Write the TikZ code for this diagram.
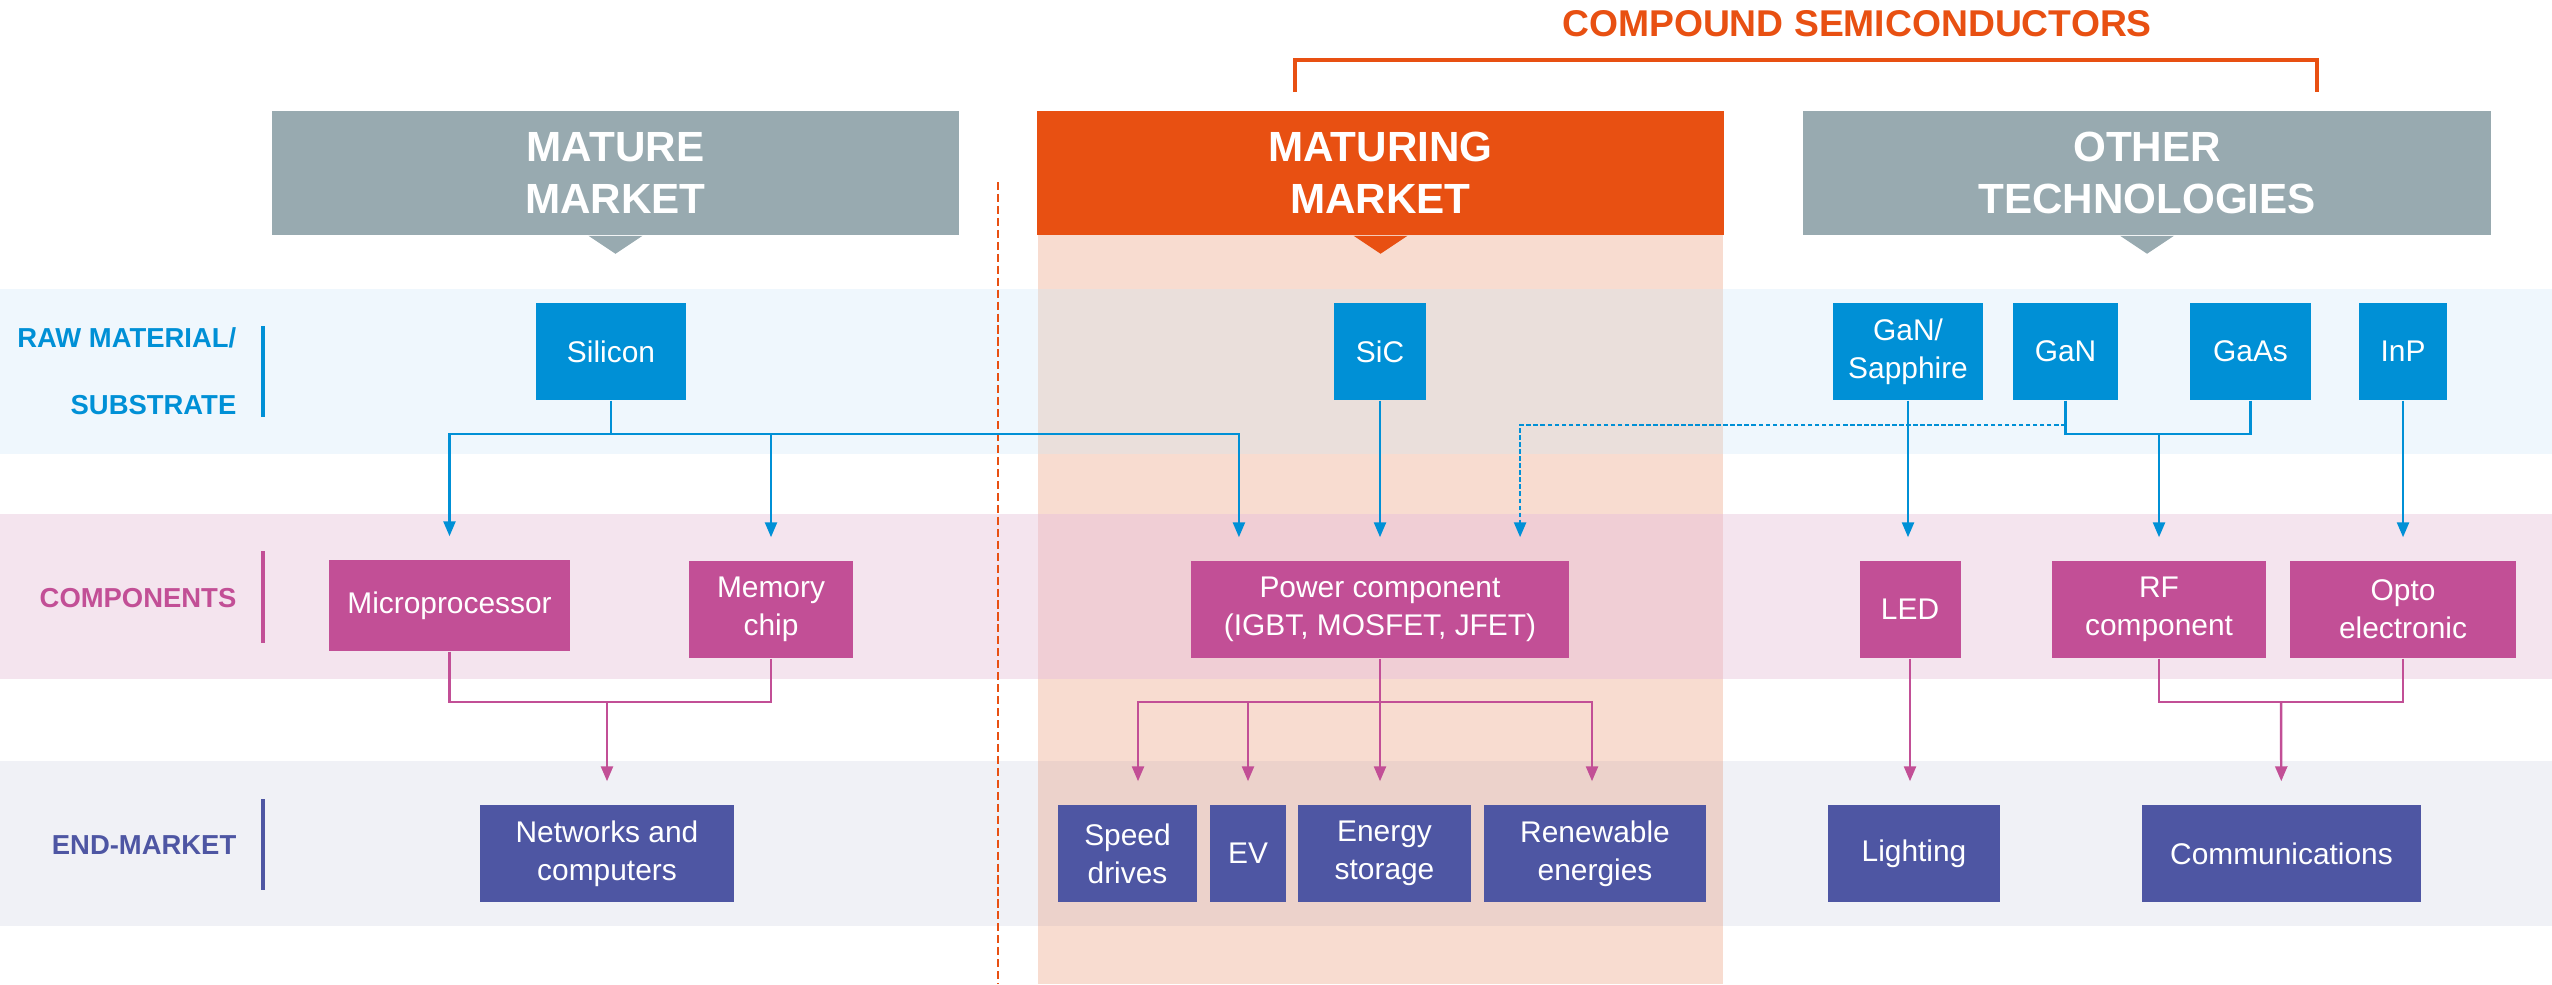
\documentclass[tikz,border=0pt]{standalone}
\usepackage{fontspec}
\setmainfont{Liberation Sans}
\usetikzlibrary{arrows.meta}

\definecolor{headgray}{RGB}{152,170,176}
\definecolor{hotorange}{RGB}{232,80,18}
\definecolor{rawblue}{RGB}{0,144,214}
\definecolor{compink}{RGB}{194,79,150}
\definecolor{endblue}{RGB}{78,86,163}
\definecolor{rawband}{RGB}{239,247,253}
\definecolor{compband}{RGB}{244,228,238}
\definecolor{endband}{RGB}{240,241,246}
\definecolor{colpeach}{RGB}{248,220,208}
\definecolor{rawcol}{RGB}{234,223,219}
\definecolor{compcol}{RGB}{240,206,213}
\definecolor{endcol}{RGB}{236,210,203}

\begin{document}
\begin{tikzpicture}[x=0.01cm, y=-0.01cm,
    raw/.style={fill=rawblue, text=white, minimum height=0.97cm, inner sep=0pt, align=center, font=\fontsize{8.5}{10.8}\selectfont},
    comp/.style={raw, fill=compink},
    endm/.style={raw, fill=endblue},
    head/.style={fill=#1, text=white, minimum width=6.86cm, minimum height=1.24cm, inner sep=0pt, align=center, font=\fontsize{12}{14.8}\selectfont\bfseries},
    side/.style={text=#1, anchor=east, inner sep=0pt, align=right, font=\fontsize{7.8}{19}\selectfont\bfseries},
    wire/.style={draw=#1, line width=0.7pt},
    arr/.style={wire=#1, -{Triangle[length=0.15cm, width=0.12cm]}, shorten >=0.23cm}]
  \useasboundingbox (0,0) rectangle (2552,984);

  % bands and the maturing column
  \fill[rawband] (0,289) rectangle (2552,454);
  \fill[compband] (0,514) rectangle (2552,679);
  \fill[endband] (0,761) rectangle (2552,926);
  \fill[colpeach] (1038,235) rectangle (1723,984);
  \fill[rawcol] (1038,289) rectangle (1723,454);
  \fill[compcol] (1038,514) rectangle (1723,679);
  \fill[endcol] (1038,761) rectangle (1723,926);

  % headers
  \node[text=hotorange, font=\fontsize{10.6}{12}\selectfont\bfseries] (compound) at (1857,23.5) {COMPOUND SEMICONDUCTORS};
  \draw[hotorange, line width=1.3pt] (1295,92) -- (1295,60) -- (2317,60) -- (2317,92);
  \node[head=headgray] (mature) at (615.5,173) {MATURE\\MARKET};
  \node[head=hotorange] (maturing) at (1380.5,173) {MATURING\\MARKET};
  \node[head=headgray, minimum width=6.88cm] (other) at (2147,173) {OTHER\\TECHNOLOGIES};
  \fill[headgray] ([xshift=-0.27cm]mature.south) -- ([xshift=0.27cm]mature.south) -- ([yshift=-0.18cm]mature.south) -- cycle;
  \fill[hotorange] ([xshift=-0.27cm]maturing.south) -- ([xshift=0.27cm]maturing.south) -- ([yshift=-0.18cm]maturing.south) -- cycle;
  \fill[headgray] ([xshift=-0.27cm]other.south) -- ([xshift=0.27cm]other.south) -- ([yshift=-0.18cm]other.south) -- cycle;
  \draw[hotorange, line width=0.7pt, dash pattern=on 2.3pt off 1.1pt] (998,182) -- (998,984);

  % row labels
  \node[side=rawblue] (rawlbl) at (237,371.5) {RAW MATERIAL/\\SUBSTRATE};
  \node[side=compink] (complbl) at (237,598) {COMPONENTS};
  \node[side=endblue] (endlbl) at (237,845) {END-MARKET};
  \draw[rawblue, line width=1pt] (263,326) -- (263,417);
  \draw[compink, line width=1pt] (263,551) -- (263,643);
  \draw[endblue, line width=1pt] (263,799) -- (263,890);

  % raw material
  \node[raw, minimum width=1.5cm] (silicon) at (611,351.5) {Silicon};
  \node[raw, minimum width=0.91cm] (sic) at (1380,351.5) {SiC};
  \node[raw, minimum width=1.5cm] (gansap) at (1908,351.5) {GaN/\\Sapphire};
  \node[raw, minimum width=1.05cm] (gan) at (2065.5,351.5) {GaN};
  \node[raw, minimum width=1.21cm] (gaas) at (2250.5,351.5) {GaAs};
  \node[raw, minimum width=0.88cm] (inp) at (2403,351.5) {InP};

  % components
  \node[comp, minimum width=2.41cm, minimum height=0.91cm] (micro) at (449.5,605.5) {Microprocessor};
  \node[comp, minimum width=1.64cm] (memory) at (771,609.5) {Memory\\chip};
  \node[comp, minimum width=3.77cm] (power) at (1380,609.5) {Power component\\(IGBT, MOSFET, JFET)};
  \node[comp, minimum width=1.01cm] (led) at (1910,609.5) {LED};
  \node[comp, minimum width=2.14cm] (rf) at (2159,609.5) {RF\\component};
  \node[comp, minimum width=2.26cm] (opto) at (2403,609.5) {Opto\\electronic};

  % end-market
  \node[endm, minimum width=2.53cm] (networks) at (607,853.5) {Networks and\\computers};
  \node[endm, minimum width=1.39cm] (speed) at (1127.5,853.5) {Speed\\drives};
  \node[endm, minimum width=0.76cm] (ev) at (1248,853.5) {EV};
  \node[endm, minimum width=1.73cm] (energy) at (1384.5,853.5) {Energy\\storage};
  \node[endm, minimum width=2.22cm] (renew) at (1595,853.5) {Renewable\\energies};
  \node[endm, minimum width=1.71cm] (lighting) at (1914,853.5) {Lighting};
  \node[endm, minimum width=2.79cm] (comm) at (2281.5,853.5) {Communications};

  % raw material -> components
  \coordinate (sibus) at (611,434);
  \draw[wire=rawblue] (silicon) -- (sibus);
  \draw[arr=rawblue] (sibus) -| (micro);
  \draw[arr=rawblue] (sibus) -| (memory);
  \draw[arr=rawblue] (sibus) -| ([xshift=-1.41cm]power.north);
  \draw[arr=rawblue] (sic) -- (power);
  \coordinate (gandash) at (2065.5,425);
  \draw[arr=rawblue, dash pattern=on 1.3pt off 0.7pt] (gandash) -| ([xshift=1.4cm]power.north);
  \draw[arr=rawblue] (gansap) -- (gansap |- led.north);
  \coordinate (gabus) at (2159,434);
  \draw[wire=rawblue] (gan) |- (gabus);
  \draw[wire=rawblue] (gaas) |- (gabus);
  \draw[arr=rawblue] (gabus) -- (rf);
  \draw[arr=rawblue] (inp) -- (opto);

  % components -> end-market
  \coordinate (cbus) at (607,702);
  \draw[wire=compink] (micro) |- (cbus);
  \draw[wire=compink] (memory) |- (cbus);
  \draw[arr=compink] (cbus) -- (networks);
  \coordinate (pbus) at (1380,702);
  \draw[wire=compink] (power) -- (pbus);
  \draw[arr=compink] (pbus) -| ([xshift=0.105cm]speed.north);
  \draw[arr=compink] (pbus) -| (ev);
  \draw[arr=compink] (pbus) -- (pbus |- energy.north);
  \draw[arr=compink] (pbus) -| ([xshift=-0.03cm]renew.north);
  \draw[arr=compink] (led) -- (led |- lighting.north);
  \coordinate (obus) at (2281,702);
  \draw[wire=compink] (rf) |- (obus);
  \draw[wire=compink] (opto) |- (obus);
  \draw[arr=compink] (obus) -- (comm);
\end{tikzpicture}
\end{document}
